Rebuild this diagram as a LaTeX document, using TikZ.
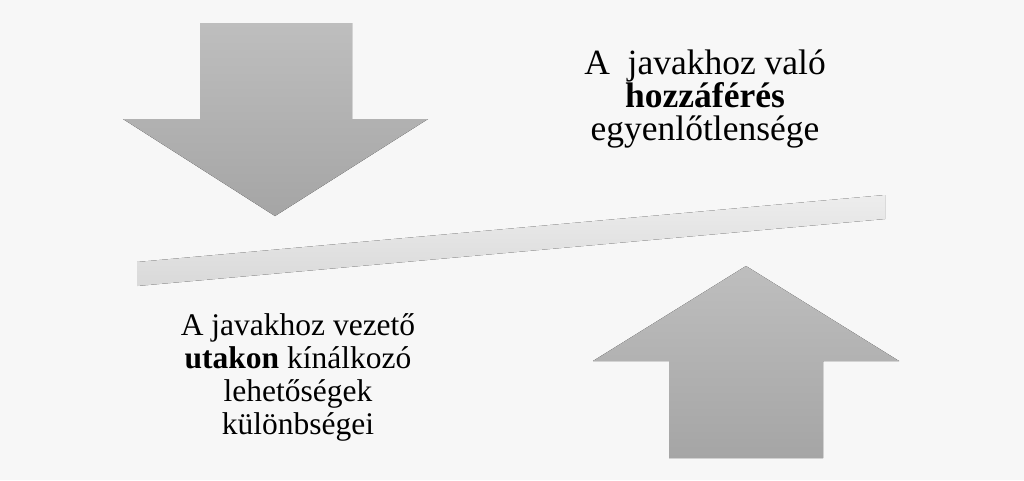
\documentclass[tikz,border=0pt]{standalone}
\usepackage{fontspec}
\setmainfont{Liberation Serif}
\usepackage{tikz}
\definecolor{bgcol}{HTML}{F7F7F7}
\definecolor{arrowtop}{HTML}{BEBEBE}
\definecolor{arrowbot}{HTML}{A5A5A5}
\definecolor{bartop}{HTML}{EDEDED}
\definecolor{barbot}{HTML}{D9D9D9}
\tikzset{
	bigarrow/.style={top color=arrowtop,bottom color=arrowbot,draw=none},
	label/.style={align=center,anchor=base,inner sep=0pt,font=\fontsize{31.5}{33}\selectfont}
}

\begin{document}
\begin{tikzpicture}[x=1pt,y=-1pt]
		\fill[bgcol] (0,0) rectangle (1024,480);
		\useasboundingbox (0,0) rectangle (1024,480);
		\fill[bigarrow] (200,23) -- (352,23) -- (352,119) -- (428,119) -- (275,216) -- (123,119) -- (200,119) -- cycle;
		\fill[bigarrow] (746,266) -- (899,361) -- (823,361) -- (823,458) -- (669,458) -- (669,361) -- (593,361) -- cycle;
		\fill[top color=bartop,bottom color=barbot] (137,262) -- (885,195) -- (885,219) -- (137,286) -- cycle;
		% last line baselines
		\node[label,font=\fontsize{35.5}{33}\selectfont] (access) at (705,140) {A~~javakhoz való\\\textbf{hozzáférés}\\egyenlőtlensége};
		\node[label] (paths) at (298,434) {A javakhoz vezető\\\textbf{utakon} kínálkozó\\lehetőségek\\különbségei};
		\end{tikzpicture}
\end{document}
